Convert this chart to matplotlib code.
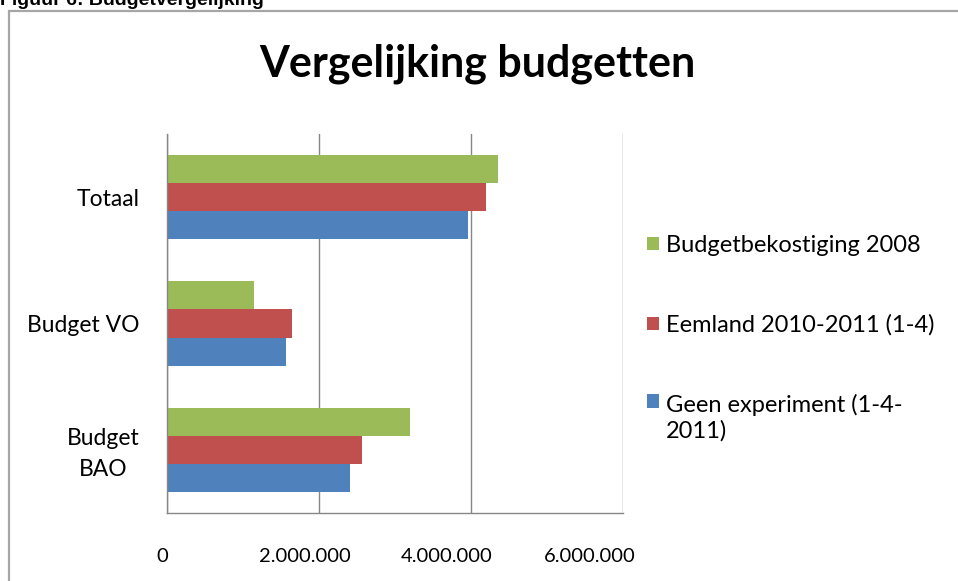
import numpy as np
import matplotlib
matplotlib.use("Agg")
import matplotlib.pyplot as plt
from matplotlib.patches import Rectangle
from matplotlib.ticker import FuncFormatter
import matplotlib.transforms as mtransforms

# data
categories = ["Budget\nBAO", "Budget VO", "Totaal"]
series_names = ["Geen experiment (1-4-\n2011)", "Eemland 2010-2011 (1-4)", "Budgetbekostiging 2008"]
geen_experiment = [2408000, 1566000, 3966000]
eemland = [2566000, 1645000, 4197000]
budget_2008 = [3197000, 1145000, 4355000]
xticks = [0, 2000000, 4000000, 6000000]

colors = ["#4F81BD", "#C0504D", "#9BBB59"]
font = "Lato"

fig = plt.figure(figsize=(9.58, 5.81), dpi=100)
ax = fig.add_axes([167/958, 1-513/581, 456/958, 379/581])

y = np.arange(len(categories))
h = 0.222
bars = []
for i, vals in enumerate([geen_experiment, eemland, budget_2008]):
	b = ax.barh(y + (i-1)*h, vals, height=h, color=colors[i], label=series_names[i], linewidth=0)
	bars.append(b)

ax.set_xlim(0, 6000000)
ax.set_ylim(-0.5, 2.5)
ax.set_xticks(xticks)
ax.xaxis.set_major_formatter(FuncFormatter(lambda v, p: f"{int(v):,}".replace(",", ".")))
ax.set_yticks(y)
ax.set_yticklabels(categories, fontfamily=font, fontsize=16.5, multialignment="center", linespacing=1.6)
for lbl in ax.get_xticklabels():
	lbl.set_fontfamily(font)
	lbl.set_fontsize(14.5)
ax.tick_params(axis="both", length=0)
ax.tick_params(axis="y", pad=20)
ax.tick_params(axis="x", pad=25)

# excel draws the value labels a bit left of the gridlines
for i, lbl in enumerate(ax.get_xticklabels()):
	off = mtransforms.ScaledTranslation((-5 - 9.5*i)/100, 0, fig.dpi_scale_trans)
	lbl.set_transform(lbl.get_transform() + off)
# nudge the two-line label up a little
bao = ax.get_yticklabels()[0]
bao.set_transform(bao.get_transform() + mtransforms.ScaledTranslation(0, 3/100, fig.dpi_scale_trans))

ax.grid(axis="x", color="#878787", linewidth=1.0)
ax.set_axisbelow(True)
for s in ["top", "right"]:
	ax.spines[s].set_visible(False)
ax.spines["left"].set_color("#878787")
ax.spines["bottom"].set_color("#878787")
ax.spines["left"].set_linewidth(1.0)
ax.spines["bottom"].set_linewidth(1.0)

fig.text(477/958, 1-77/581, "Vergelijking budgetten", ha="center", va="baseline",
		 fontfamily=font, fontweight="bold", fontsize=31)

handles = [bars[2], bars[1], bars[0]]
labels = [series_names[2], series_names[1], series_names[0]]
leg = fig.legend(handles, labels, loc="upper left", bbox_to_anchor=(647/958, 1-235/581),
				 frameon=False, prop={"family": font, "size": 17},
				 handlelength=0.5, handleheight=0.5, handletextpad=0.3,
				 labelspacing=2.47, borderaxespad=0, borderpad=0)
rows = leg._legend_handle_box.get_children()[0].get_children()
rows[2].align = "top"

# caption cut at the top of the picture
fig.text(0, 1-5/581, "Figuur 6: Budgetvergelijking", ha="left", va="baseline",
		 fontfamily="Liberation Sans", fontweight="bold", fontsize=14)

# chart frame
fig.patches.append(Rectangle((9/958, -0.1), 1.2, 1.1 - 11/581,
							 transform=fig.transFigure, fill=False,
							 edgecolor="#a6a6a6", linewidth=1.6))

fig.savefig("out.png", dpi=100)
